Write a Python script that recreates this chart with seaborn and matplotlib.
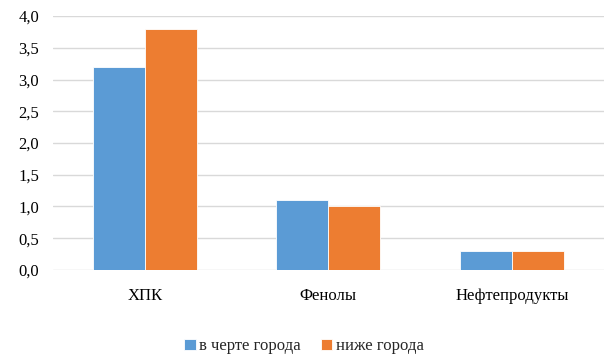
import pandas as pd
import seaborn as sns
from matplotlib import pyplot as plt
from matplotlib.ticker import FuncFormatter

# data
categories = ["ХПК", "Фенолы", "Нефтепродукты"]
in_city = [3.2, 1.1, 0.3]
below_city = [3.8, 1.0, 0.3]
series_names = ["в черте города", "ниже города"]

df = pd.DataFrame({
    "cat": categories * 2,
    "val": in_city + below_city,
    "series": [series_names[0]] * 3 + [series_names[1]] * 3,
})

sns.set_style("white")
plt.rcParams["font.family"] = ["Liberation Serif", "DejaVu Serif"]

fig = plt.figure(figsize=(6.13, 3.58), dpi=100)
ax = fig.add_axes([0.0865, 0.246, 0.8985, 0.709])

sns.barplot(data=df, x="cat", y="val", hue="series",
            palette=["#5B9BD5", "#ED7D31"], saturation=1, width=0.566,
            edgecolor="#FFFFFF", linewidth=0.6, ax=ax, zorder=3)

ax.set_ylim(0, 4.0)
ax.set_yticks([i * 0.5 for i in range(9)])
ax.yaxis.set_major_formatter(FuncFormatter(lambda v, p: f"{v:.1f}".replace(".", ",")))
ax.grid(axis="y", color="#D9D9D9", linewidth=1, zorder=0)
ax.set_axisbelow(True)
for s in ax.spines.values():
    s.set_visible(False)
ax.tick_params(axis="both", length=0, labelsize=12, colors="#000000")
ax.tick_params(axis="x", pad=13)
ax.tick_params(axis="y", pad=10)
ax.set_xlabel("")
ax.set_ylabel("")

ax.legend(loc="upper center", bbox_to_anchor=(0.455, -0.21), ncol=2, frameon=False,
          fontsize=12, handlelength=0.7, handleheight=0.7, handletextpad=0.2,
          columnspacing=1.2)

fig.savefig("out.png", dpi=100)
